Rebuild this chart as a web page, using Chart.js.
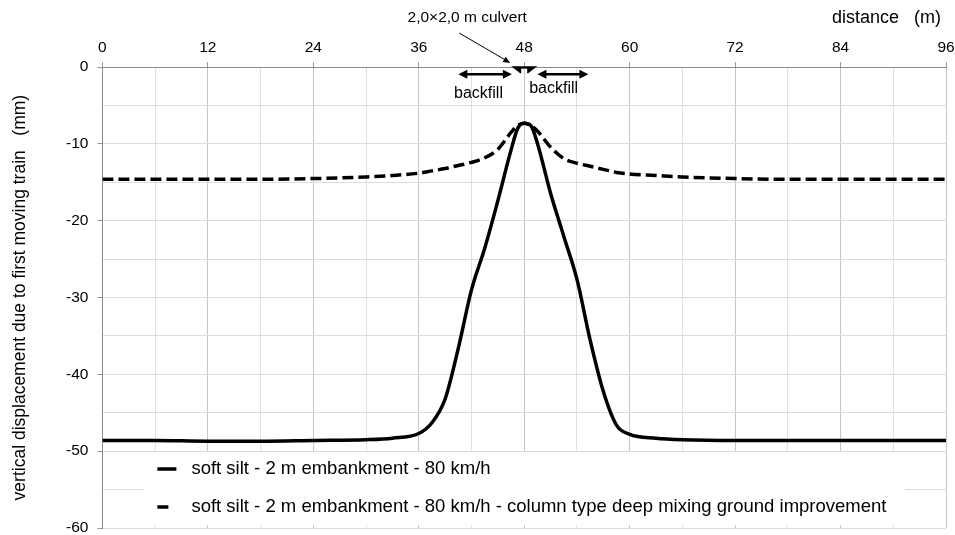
<!DOCTYPE html>
<html>
<head>
<meta charset="utf-8">
<script src="https://cdn.jsdelivr.net/npm/chart.js@4.4.1/dist/chart.umd.min.js"></script>
<style>
  html, body { margin: 0; padding: 0; background: #fff; }
  canvas { display: block; }
</style>
</head>
<body>
<canvas id="settle" width="955" height="535"></canvas>
<script>
// distance along the track (m)
const distance = [0, 6, 12, 18, 24, 30, 33, 36, 37.5, 39, 40.5, 42, 43.5, 45, 46.5, 47.25, 48,
  48.75, 49.5, 51, 52.5, 54, 55.5, 57, 58.5, 60, 63, 66, 72, 78, 84, 90, 96];

// vertical displacement (mm) - soft silt, no improvement
const dispSoftSilt = [-48.6, -48.6, -48.7, -48.7, -48.6, -48.5, -48.3, -47.7, -46.3, -43.2, -36.6, -29.0, -23.6, -17.4, -10.8, -8.0, -7.3,
  -7.6, -9.9, -16.4, -22.0, -27.6, -35.5, -42.2, -46.6, -47.8, -48.3, -48.5, -48.6, -48.6, -48.6, -48.6, -48.6];

// vertical displacement (mm) - with column type deep mixing
const dispDeepMixing = [-14.6, -14.6, -14.6, -14.6, -14.5, -14.3, -14.1, -13.8, -13.5, -13.2, -12.8, -12.4, -11.8, -10.7, -8.5, -7.6, -7.3,
  -7.6, -8.3, -10.4, -11.9, -12.5, -12.9, -13.3, -13.7, -13.9, -14.1, -14.3, -14.5, -14.6, -14.6, -14.6, -14.6];

const seriesLabels = [
  'soft silt - 2 m embankment - 80 km/h',
  'soft silt - 2 m embankment - 80 km/h - column type deep mixing ground improvement'
];

const xTitle = 'distance   (m) ';
const yTitle = 'vertical displacement due to first moving train   (mm)';
const culvertLabel = '2,0\u00d72,0 m culvert';
const backfillLabel = 'backfill';

const FONT = "'Liberation Sans', Arial, sans-serif";

const toPoints = (xs, ys) => xs.map((x, i) => ({ x: x, y: ys[i] }));

// arrows, culvert sketch and the in-plot legend
const sketchPlugin = {
  id: 'sketch',
  afterDraw(chart) {
    const ctx = chart.ctx;
    const a = chart.chartArea;
    const xs = chart.scales.x;
    const cx = xs.getPixelForValue(48);
    ctx.save();

    // culvert label + pointer
    ctx.fillStyle = '#000';
    ctx.font = '15.5px ' + FONT;
    ctx.textAlign = 'center';
    ctx.textBaseline = 'middle';
    ctx.fillText(culvertLabel, cx - 57, 18);
    ctx.strokeStyle = '#000';
    ctx.lineWidth = 1;
    ctx.beginPath();
    ctx.moveTo(cx - 65, 33);
    ctx.lineTo(cx - 17, 61);
    ctx.stroke();
    arrowHead(ctx, cx - 65, 33, cx - 14, 63, 7, 3);

    // culvert shape
    ctx.beginPath();
    ctx.moveTo(cx - 13, a.top - 1);
    ctx.lineTo(cx + 13, a.top - 1);
    ctx.lineTo(cx + 4, a.top + 6);
    ctx.lineTo(cx - 4, a.top + 6);
    ctx.closePath();
    ctx.fill();
    ctx.fillStyle = '#fff';
    ctx.fillRect(cx - 3, a.top + 1.5, 6, 5);
    ctx.fillStyle = '#c6c6c6';
    ctx.fillRect(cx - 0.5, a.top + 1.5, 1, 5);
    ctx.fillStyle = '#000';

    // backfill arrows
    const y = a.top + 7;
    doubleArrow(ctx, xs.getPixelForValue(40.5), xs.getPixelForValue(46.6), y);
    doubleArrow(ctx, xs.getPixelForValue(49.5), xs.getPixelForValue(55.3), y);
    ctx.font = '16px ' + FONT;
    ctx.fillText(backfillLabel, xs.getPixelForValue(42.8), a.top + 26);
    ctx.fillText(backfillLabel, xs.getPixelForValue(51.35), a.top + 21.5);

    // legend
    const lx = a.left + 41, ly = a.bottom - 76;
    ctx.fillStyle = '#fff';
    ctx.fillRect(lx, ly, 762, 73);
    ctx.textAlign = 'left';
    ctx.font = '18.5px ' + FONT;
    chart.data.datasets.forEach((ds, i) => {
      const rowY = ly + 17 + i * 38;
      const len = ds.borderDash ? ds.borderDash[0] : 19;
      ctx.strokeStyle = ds.borderColor;
      ctx.lineWidth = ds.borderWidth;
      ctx.beginPath();
      ctx.moveTo(lx + 14, rowY);
      ctx.lineTo(lx + 14 + len, rowY);
      ctx.stroke();
      ctx.fillStyle = '#000';
      ctx.fillText(ds.label, lx + 48, rowY);
    });
    ctx.restore();
  }
};

function arrowHead(ctx, x0, y0, x1, y1, len, half) {
  const ang = Math.atan2(y1 - y0, x1 - x0);
  ctx.beginPath();
  ctx.moveTo(x1, y1);
  ctx.lineTo(x1 - len * Math.cos(ang) + half * Math.sin(ang), y1 - len * Math.sin(ang) - half * Math.cos(ang));
  ctx.lineTo(x1 - len * Math.cos(ang) - half * Math.sin(ang), y1 - len * Math.sin(ang) + half * Math.cos(ang));
  ctx.closePath();
  ctx.fill();
}

function doubleArrow(ctx, x0, x1, y) {
  ctx.lineWidth = 2.5;
  ctx.beginPath();
  ctx.moveTo(x0 + 6, y);
  ctx.lineTo(x1 - 6, y);
  ctx.stroke();
  arrowHead(ctx, x1, y, x0, y, 9, 4.5);
  arrowHead(ctx, x0, y, x1, y, 9, 4.5);
}

const data = {
  datasets: [
    {
      label: seriesLabels[0],
      data: toPoints(distance, dispSoftSilt),
      borderColor: '#000',
      borderWidth: 3.5,
      pointRadius: 0,
      cubicInterpolationMode: 'monotone'
    },
    {
      label: seriesLabels[1],
      data: toPoints(distance, dispDeepMixing),
      borderColor: '#000',
      borderWidth: 3.5,
      borderDash: [11, 5],
      pointRadius: 0,
      cubicInterpolationMode: 'monotone'
    }
  ]
};

const config = {
  type: 'line',
  data: data,
  options: {
    responsive: false,
    animation: false,
    layout: { padding: { left: 10, right: 0, top: 4, bottom: 7 } },
    plugins: { legend: { display: false }, tooltip: { enabled: false } },
    scales: {
      x: {
        type: 'linear',
        position: 'top',
        min: 0,
        max: 96,
        afterFit: s => { s.paddingLeft = 0; s.paddingRight = 9; },
        ticks: {
          stepSize: 6,
          autoSkip: false,
          maxRotation: 0,
          color: '#000',
          font: { family: FONT, size: 15.5 },
          padding: 5,
          callback: v => (v % 12 === 0 ? v : '')
        },
        grid: {
          color: c => (c.tick && c.tick.value % 12 === 0 ? '#c6c6c6' : '#e0e0e0'),
          tickColor: c => (c.tick && c.tick.value % 12 === 0 ? '#999' : 'rgba(0,0,0,0)'),
          tickLength: 5
        },
        border: { color: '#888' },
        title: {
          display: true,
          text: xTitle,
          align: 'end',
          color: '#000',
          font: { family: FONT, size: 18 },
          padding: { top: 3, bottom: 5 }
        }
      },
      y: {
        min: -60,
        max: 0,
        afterFit: s => { s.paddingTop = 0; s.paddingBottom = 0; },
        ticks: {
          stepSize: 5,
          autoSkip: false,
          color: '#000',
          font: { family: FONT, size: 15.5 },
          padding: 9,
          callback: v => (v % 10 === 0 ? v : '')
        },
        grid: {
          color: '#dcdcdc',
          tickColor: c => (c.tick && c.tick.value % 10 === 0 ? '#999' : 'rgba(0,0,0,0)'),
          tickLength: 5
        },
        border: { color: '#888' },
        title: {
          display: true,
          text: yTitle,
          color: '#000',
          font: { family: FONT, size: 17.5 },
          padding: { top: 0, bottom: 26 }
        }
      }
    }
  },
  plugins: [sketchPlugin]
};

const settlementChart = new Chart(document.getElementById('settle'), config);
</script>
</body>
</html>
